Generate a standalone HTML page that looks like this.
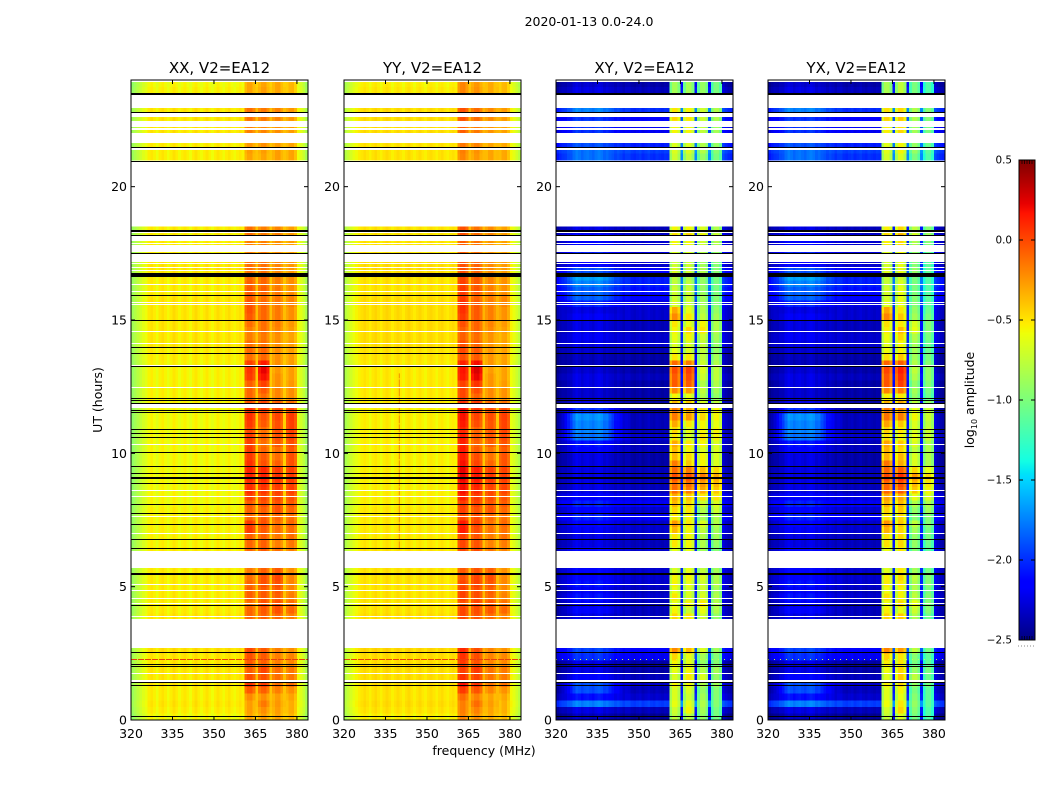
<!DOCTYPE html>
<html lang="en">
<head>
<meta charset="utf-8">
<title>2020-01-13 amplitude waterfall</title>
<style>
html,body{margin:0;padding:0;background:#fff;}
svg{display:block;}
text{font-family:"DejaVu Sans","Liberation Sans",sans-serif;fill:#000;}
</style>
</head>
<body>
<svg id="figure" xmlns="http://www.w3.org/2000/svg" width="1050" height="800" viewBox="0 0 1050 800">
<rect x="0" y="0" width="1050" height="800" fill="#fff"/>
<text x="589" y="26" font-size="12.5" text-anchor="middle">2020-01-13 0.0-24.0</text>
<text x="484" y="755" font-size="12.5" text-anchor="middle">frequency (MHz)</text>
<text x="0" y="0" font-size="12.5" text-anchor="middle" transform="translate(102,400) rotate(-90)">UT (hours)</text>
<text x="0" y="0" font-size="12.5" text-anchor="middle" transform="translate(974,400) rotate(-90)">log<tspan font-size="8" dy="3">10</tspan><tspan dy="-3"> amplitude</tspan></text>
</svg>
<script>
const n = null;

// Axis categories and tick labels
const freqTicks = [320, 335, 350, 365, 380];
const utTicks = [0, 5, 10, 15, 20];
const colorTicks = [0.5, 0, -0.5, -1, -1.5, -2, -2.5];
const panelTitles = ['XX, V2=EA12', 'YY, V2=EA12', 'XY, V2=EA12', 'YX, V2=EA12'];

// Zone of each 1 MHz channel from 320 MHz: 1 off-band, 2-5 sub-bands, 6 sub-band gaps, 7 upper tail
const channelZone = [
1,1,1,1,1,1,1,1,1,1,
1,1,1,1,1,1,1,1,1,1,
1,1,1,1,1,1,1,1,1,1,
1,1,1,1,1,1,1,1,1,1,
1,2,2,2,2,6,3,3,3,3,
6,4,4,4,4,6,5,5,5,5,
7,7,7,7];

// How strongly each off-band channel follows the broad low-frequency feature in the cross-hands
const blobWeight = [
0,0,.1,.3,.5,.7,.85,1,1,1,
1,1,1,1,1,1,1,.95,.9,.75,
.6,.45,.35,.25,.15,.1,.05,0,0,0,
0,0,0,0,0,0,0,0,0,0,
0,0,0,0,0,0,0,0,0,0,
0,0,0,0,0,0,0,0,0,0,
0,0,0,0];

// Per-channel log10 amplitude offsets
const xxChan = [
-.32,-.26,-.2,-.14,-.08,-.04,.03,.06,.02,-.03,
.04,.07,.03,-.02,.03,.08,.04,-.01,.03,.06,
.02,-.02,.04,.08,.03,-.01,.03,.07,.02,-.02,
.03,.07,.03,-.01,.04,.07,.02,-.01,.03,.06,
.02,-.04,.03,.04,-.05,.17,-.04,.03,.04,-.05,
.17,-.04,.03,.04,-.05,.17,-.04,.03,.04,-.06,
-.02,-.08,-.16,-.28];
const yyChan = [
-.26,-.2,-.14,-.08,-.04,0,.03,.06,.03,-.01,
.04,.07,.03,-.01,.04,.07,.04,-.01,.03,.06,
.03,-.01,.04,.07,.03,-.01,.03,.06,.02,-.01,
.04,.06,.03,-.01,.04,.06,.02,-.01,.03,.05,
.02,-.04,.03,.04,-.05,.17,-.04,.03,.04,-.05,
.17,-.04,.03,.04,-.05,.17,-.04,.03,.04,-.06,
-.03,-.09,-.16,-.24];
const xyChan = [
-.05,0,.02,0,.02,0,.05,.08,.05,0,
.04,.06,.03,0,.05,.08,.05,0,.04,.02,
.02,0,.05,.03,0,.05,.06,.02,0,.03,
.05,0,.03,.06,.02,0,.04,.02,0,.03,
.02,-.15,.05,.05,-.1,.3,-.15,.05,.05,-.1,
.3,-.15,.05,.05,-.1,.3,-.15,.05,.05,-.1,
.12,.05,0,-.02];

// XX: row values every 0.25 h from 0 UT
const xxOut = [
-.5,-.46,-.44,-.46, -.46,-.44,-.44,-.44, -.44,-.44,-.42,n,
n,n,n,-.44, -.46,-.46,-.46,-.46, -.46,-.46,-.46,n,
n,-.46,-.48,-.48, -.48,-.48,-.48,-.48, -.5,-.5,-.5,-.5,
-.5,-.5,-.5,-.5, -.5,-.5,-.5,-.5, -.5,-.5,-.5,-.48,
-.48,-.48,-.48,-.48, -.48,-.48,-.46,-.46, -.44,-.44,-.44,-.44,
-.44,-.44,-.44,-.44, -.46,-.46,-.46,-.44, -.44,-.44,-.46,-.46,
-.46,-.46,n,n, n,n,n,n, n,n,n,n,
-.46,-.46,-.46,-.46, -.44,-.44,-.44,-.44, -.46,-.46,-.48,-.5];
const xxSb1 = [
-.22,-.2,-.2,-.14, .02,.14,.05,0, .02,.05,.08,n,
n,n,n,-.02, -.02,-.05,0,0, -.02,-.05,-.08,n,
n,-.02,-.02,0, .12,.12,-.02,0, .02,.1,.16,.16,
.2,.2,.15,.12, .12,.1,.12,.08, .12,.15,.15,.05,
-.02,-.02,0,.12, .14,.1,-.05,-.03, -.05,-.1,-.1,-.05,
.02,.05,.05,.02, .02,0,-.02,-.05, -.05,-.1,-.1,-.1,
-.05,-.05,n,n, n,n,n,n, n,n,n,n,
-.22,-.2,-.18,-.12, -.1,-.1,-.05,-.05, -.22,-.22,-.22,-.22];
const xxSb2 = [
-.2,-.15,-.08,-.15, 0,.1,.05,.08, 0,.02,.02,n,
n,n,n,0, .02,.05,.02,.02, .05,.05,0,n,
n,.02,0,0, .02,.05,.02,0, .05,.08,.14,.16,
.2,.18,.05,.02, -.02,-.05,-.02,-.05, .02,.05,.1,.08,
-.05,.02,.1,.25, .3,.22,-.02,-.02, -.05,-.08,-.05,-.05,
-.02,-.02,-.02,-.05, 0,-.02,-.02,-.05, -.05,-.1,-.1,-.1,
-.08,-.1,n,n, n,n,n,n, n,n,n,n,
-.22,-.2,-.15,-.12, -.12,-.1,-.08,-.08, -.2,-.2,-.2,-.22];
const xxSb3 = [
-.22,-.2,-.18,-.2, -.1,-.05,-.05,-.05, -.1,-.1,-.1,n,
n,n,n,-.02, .05,.05,0,.02, .05,.08,.02,n,
n,-.05,-.1,-.08, -.05,-.05,-.02,.05, .05,.08,.1,.12,
.15,.12,0,-.05, -.05,.02,.05,.05, .05,.08,.08,0,
-.12,-.12,-.15,-.15, -.18,-.15,-.15,-.15, -.15,-.15,-.12,-.1,
-.08,-.08,-.08,-.08, -.08,-.1,-.1,-.12, -.12,-.15,-.15,-.15,
-.1,-.12,n,n, n,n,n,n, n,n,n,n,
-.2,-.2,-.2,-.15, -.15,-.15,-.12,-.12, -.22,-.22,-.22,-.22];
const xxSb4 = [
-.28,-.25,-.25,-.22, -.15,-.05,-.08,-.08, -.12,-.12,-.15,n,
n,n,n,-.1, -.02,-.05,-.1,-.12, -.12,-.12,-.15,n,
n,-.1,-.08,-.05, -.05,-.02,-.05,-.02, .02,.05,.1,.1,
.12,.1,.05,.05, .02,.05,.08,.1, .1,.12,.08,-.05,
-.15,-.15,-.18,-.2, -.2,-.2,-.2,-.2, -.2,-.22,-.2,-.18,
-.15,-.15,-.12,-.12, -.15,-.15,-.15,-.18, -.18,-.2,-.2,-.2,
-.18,-.2,n,n, n,n,n,n, n,n,n,n,
-.22,-.22,-.22,-.2, -.2,-.2,-.18,-.18, -.28,-.28,-.28,-.28];

// Level adjustments by zone: blob, off-band, sub-bands x4
const xxShift = [-.1, -.1, -.1, -.1, -.1, -.1];
const yyShift = [-.07, -.07, 0, -.06, -.12, -.11];

// XY: row values every 0.25 h from 0 UT
const xyBlob = [
-2.3,-2.2,-1.7,-2.05, -1.85,-1.85,-2.1,-2.2, -2.2,-1.95,-1.9,n,
n,n,n,-2.2, -2.1,-2.15,-2.05,-2.15, -2.05,-2.1,-2.1,n,
n,-2.1,-2.2,-2.2, -2.15,-2.1,-2,-2.1, -2,-2.1,-2.2,-2.2,
-2.2,-2.2,-2.2,-2.2, -2.1,-2.05,-1.75,-1.7, -1.7,-1.65,-1.95,-2.2,
-2.25,-2.25,-2.2,-2.2, -2.25,-2.3,-2.3,-2.25, -2.2,-2.15,-2.2,-2.2,
-2.15,-2.2,-2,-1.8, -1.8,-1.7,-1.6,-1.85, -2.1,-2,-2,-2.1,
-2.1,-2.2,n,n, n,n,n,n, n,n,n,n,
-1.75,-1.75,-1.85,-1.8, -1.95,-1.85,-1.95,-1.7, -1.9,-2.1,-2.2,-2.25];
const xyHigh = [
-2.35,-2.25,-1.85,-2.2, -2.25,-2.2,-2.25,-2.3, -2.3,-2.1,-2.05,n,
n,n,n,-2.25, -2.25,-2.25,-2.2,-2.25, -2.2,-2.2,-2.2,n,
n,-2.2,-2.25,-2.25, -2.2,-2.2,-2.1,-2.2, -2.1,-2.15,-2.25,-2.25,
-2.25,-2.25,-2.3,-2.3, -2.25,-2.25,-2.2,-2.25, -2.25,-2.25,-2.3,-2.3,
-2.3,-2.3,-2.3,-2.25, -2.3,-2.3,-2.3,-2.25, -2.2,-2.2,-2.25,-2.25,
-2.2,-2.2,-2.15,-2.05, -2,-1.95,-1.95,-2.05, -2.2,-2.15,-2.15,-2.2,
-2.2,-2.25,n,n, n,n,n,n, n,n,n,n,
-1.9,-1.85,-1.95,-1.95, -2.1,-2,-2.05,-1.9, -2,-2.15,-2.25,-2.3];
const xySb1 = [
-.8,-.75,-.65,-.7, -.7,-.6,-.7,-.65, -.6,-.5,-.25,n,
n,n,n,-.5, -.6,-.65,-.55,-.65, -.6,-.6,-.7,n,
n,-.65,-.55,-.55, -.4,-.3,-.55,-.5, -.4,-.35,-.15,-.15,
-.05,-.15,-.2,-.4, -.4,-.35,-.55,-.5, -.35,-.2,-.2,-.4,
-.6,-.25,-.1,-.1, -.05,-.15,-.55,-.65, -.7,-.65,-.6,-.55,
-.25,-.35,-.7,-.75, -.75,-.8,-.8,-.7, -.75,-.6,-.7,-.6,
-.5,-.6,n,n, n,n,n,n, n,n,n,n,
-.75,-.7,-.7,-.6, -.6,-.55,-.5,-.55, -.85,-.9,-.9,-.9];
const xySb2 = [
-.8,-.6,-.65,-.75, -.7,-.6,-.55,-.6, -.65,-.65,-.4,n,
n,n,n,-.55, -.75,-.6,-.7,-.7, -.65,-.6,-.65,n,
n,-.65,-.6,-.6, -.6,-.55,-.6,-.55, -.5,-.45,-.2,-.15,
-.05,-.2,-.45,-.5, -.6,-.55,-.7,-.65, -.55,-.3,-.35,-.45,
-.65,-.3,-.1,-.05, 0,-.2,-.55,-.7, -.7,-.6,-.5,-.65,
-.55,-.65,-.75,-.75, -.75,-.8,-.85,-.75, -.75,-.6,-.7,-.6,
-.45,-.6,n,n, n,n,n,n, n,n,n,n,
-.8,-.7,-.7,-.55, -.6,-.6,-.55,-.6, -.85,-.9,-.9,-.9];
const xySb3 = [
-.95,-.9,-.85,-.9, -.95,-.85,-.7,-.85, -.95,-.9,-.7,n,
n,n,n,-.75, -.65,-.55,-.7,-.75, -.75,-.7,-.8,n,
n,-.9,-.85,-.85, -.8,-.7,-.9,-.85, -.75,-.55,-.35,-.3,
-.2,-.4,-.6,-.6, -.7,-.6,-.55,-.6, -.6,-.5,-.55,-.7,
-.85,-.8,-.85,-.75, -.7,-.75,-.8,-.8, -.8,-.75,-.55,-.6,
-.8,-.85,-.9,-.9, -.95,-.95,-.95,-.85, -.9,-.8,-.85,-.75,
-.6,-.7,n,n, n,n,n,n, n,n,n,n,
-.95,-.85,-.85,-.75, -.8,-.8,-.75,-.75, -.95,-.95,-.95,-.95];
const xySb4 = [
-1.05,-1.05,-1,-1, -1,-.9,-.95,-.9, -1,-1,-.9,n,
n,n,n,-.95, -.85,-.85,-.85,-.9, -.85,-.85,-.9,n,
n,-1,-.95,-.9, -.9,-.85,-.85,-.75, -.7,-.55,-.45,-.4,
-.35,-.5,-.7,-.7, -.7,-.7,-.6,-.6, -.65,-.6,-.6,-.8,
-.95,-.9,-.85,-.8, -.8,-.85,-.9,-.95, -.95,-.9,-.85,-.85,
-.9,-.95,-1,-1, -1.05,-1.05,-1.05,-1, -1,-.95,-.95,-.85,
-.75,-.85,n,n, n,n,n,n, n,n,n,n,
-1.05,-1,-.95,-.9, -.9,-.9,-.85,-.85, -1.05,-1.05,-1.05,-1.05];

const xyShift = [-.08, -.12, 0, 0, 0, 0];
const yxShift = [-.08, -.12, .02, .1, -.1, -.15];

// Flagged time ranges in UT hours [start, end]
const whiteBands = [
[2.71,3.79],[5.7,6.35],[18.56,20.96],[11.69,11.85],
[22.96,23.42],[22.62,22.75],[22.25,22.46],[22.14,22.19],[21.63,22],[21.38,21.5],
[23.92,24],[17.96,18.16],[18.25,18.3],[17.84,17.88],[17.54,17.8],[17.19,17.53]];
const whiteLines = [
7.65,7,5.1,4.87,4.56,4.37,3.91,1.75,1.5,1.47,
17.15,17,16.88,16.34,16.1,15.69,15.59,14.6,14.15,13.31,12.5,10.35,8.63,8.41];
const blackBands = [
[23.42,23.5],[22.75,22.81],[18.3,18.37],[18.16,18.2],[16.63,16.77],[9.48,9.54],[9.03,9.1]];
const blackLines = [
8.11,7.77,7.34,6.78,6.44,5.52,5.46,4.3,2.56,2.1,2.01,1.41,1.31,0.16,
15.93,14.99,13.98,13.75,13.27,12.06,12,11.9,11.63,11.56,10.9,10.75,10.6,10.04,9.25,8.9,21.5,20.96,17.53];
const spikeHour = 2.28;
const yyRfiFreq = 340;
const yyRfiHours = [6.4, 13];

const svgNS = 'http://www.w3.org/2000/svg';
const figure = document.getElementById('figure');
const panelLefts = [131, 344, 556, 768];
const panelWidth = 177;
const plotTop = 80;
const plotBottom = 720;
const freqMin = 320;
const freqMax = 384;
const utMax = 24;
const rowHours = 0.25;

function xScale(left, freq) {
  return left + (freq - freqMin) / (freqMax - freqMin) * panelWidth;
}
function yScale(hour) {
  return plotBottom - hour / utMax * (plotBottom - plotTop);
}
function jetChannel(t, pts) {
  for (let i = 1; i < pts.length; i++) {
    if (t <= pts[i][0]) {
      const a = pts[i - 1], b = pts[i];
      return a[1] + (b[1] - a[1]) * (t - a[0]) / (b[0] - a[0]);
    }
  }
  return pts[pts.length - 1][1];
}
function jet(value) {
  const t = Math.max(0, Math.min(1, (value + 2.5) / 3));
  const r = jetChannel(t, [[0,0],[.35,0],[.66,1],[.89,1],[1,.5]]);
  const g = jetChannel(t, [[0,0],[.125,0],[.375,1],[.64,1],[.91,0],[1,0]]);
  const b = jetChannel(t, [[0,.5],[.11,1],[.34,1],[.65,0],[1,0]]);
  return 'rgb(' + Math.round(r * 255) + ',' + Math.round(g * 255) + ',' + Math.round(b * 255) + ')';
}
function make(tag, parent, attrs) {
  const node = document.createElementNS(svgNS, tag);
  for (const k in attrs) node.setAttribute(k, attrs[k]);
  parent.appendChild(node);
  return node;
}

const panelZones = [
  [xxOut, xxOut, xxSb1, xxSb2, xxSb3, xxSb4],
  [xxOut, xxOut, xxSb1, xxSb2, xxSb3, xxSb4],
  [xyBlob, xyHigh, xySb1, xySb2, xySb3, xySb4],
  [xyBlob, xyHigh, xySb1, xySb2, xySb3, xySb4]
];
const panelShifts = [xxShift, yyShift, xyShift, yxShift];
const panelChans = [xxChan, yyChan, xyChan, xyChan];
const panelKeys = ['xx', 'yy', 'xy', 'yx'];

function cellValue(p, row, col) {
  const zones = panelZones[p], shift = panelShifts[p];
  const zone = channelZone[col];
  const z = zone > 5 ? 1 : zone;
  let base = zones[z][row] + shift[z];
  if (z === 1) {
    const blob = zones[0][row] + shift[0];
    base = base + blobWeight[col] * (blob - base);
  }
  return base + panelChans[p][col];
}

panelLefts.forEach(function (left, p) {
  const group = make('g', figure, {});
  
  

  const heat = make('g', group, {'shape-rendering': 'crispEdges'});
  
  

  const rowCount = xxOut.length;
  for (let row = 0; row < rowCount; row++) {
    if (panelZones[p][1][row] === null) continue;
    const yTop = yScale((row + 1) * rowHours);
    const yBot = yScale(row * rowHours);
    for (let col = 0; col < channelZone.length; col++) {
      const xL = xScale(left, freqMin + col);
      const xR = xScale(left, freqMin + col + 1);
      const cell = make('rect', heat, {x: xL, y: yTop, width: xR - xL + 0.3, height: yBot - yTop + 0.3, fill: jet(cellValue(p, row, col))});
      
      
    }
  }

  const spikeY = Math.round(yScale(spikeHour));
  const spike = make('line', group, {
    x1: left, x2: left + panelWidth, y1: spikeY + 0.5, y2: spikeY + 0.5,
    stroke: p < 2 ? '#e8400a' : '#c8ff40',
    'stroke-width': 1,
    'stroke-dasharray': p < 2 ? '6 1' : '1 5'
  });
  
  

  if (p === 1) {
    const rfi = make('line', group, {
      x1: xScale(left, yyRfiFreq), x2: xScale(left, yyRfiFreq),
      y1: yScale(yyRfiHours[0]), y2: yScale(yyRfiHours[1]),
      stroke: '#f09000', 'stroke-width': 1, 'stroke-dasharray': '8 1'
    });
    
    
  }

  function band(range, color, name) {
    const y0 = Math.round(yScale(range[1]));
    const y1 = Math.round(yScale(range[0]));
    const r = make('rect', group, {x: left, y: y0, width: panelWidth, height: Math.max(1, y1 - y0), fill: color, 'shape-rendering': 'crispEdges'});
    
    
  }
  whiteBands.forEach(function (r) { band(r, '#fff', 'flagged-gap'); });
  whiteLines.forEach(function (h) { band([h, h], '#fff', 'flagged-white-row'); });
  blackBands.forEach(function (r) { band(r, '#000', 'flagged-black-band'); });
  blackLines.forEach(function (h) { band([h, h], '#000', 'flagged-black-row'); });

  const frame = make('rect', group, {x: left, y: plotTop, width: panelWidth, height: plotBottom - plotTop, fill: 'none', stroke: '#000', 'stroke-width': 1});
  
  

  freqTicks.forEach(function (f) {
    const x = xScale(left, f);
    const tb = make('line', group, {x1: x, x2: x, y1: plotBottom, y2: plotBottom - 4, stroke: '#000'});
    
    
    const tt = make('line', group, {x1: x, x2: x, y1: plotTop, y2: plotTop + 4, stroke: '#000'});
    
    
    const lab = make('text', group, {x: x, y: 738, 'font-size': 12.5, 'text-anchor': 'middle'});
    lab.textContent = String(f);
    
    
  });
  utTicks.forEach(function (h) {
    const y = yScale(h);
    const tl = make('line', group, {x1: left, x2: left + 4, y1: y, y2: y, stroke: '#000'});
    
    
    const tr = make('line', group, {x1: left + panelWidth, x2: left + panelWidth - 4, y1: y, y2: y, stroke: '#000'});
    
    
    const lab = make('text', group, {x: left - 4, y: y + 4.5, 'font-size': 12.5, 'text-anchor': 'end'});
    lab.textContent = String(h);
    
    
  });

  const title = make('text', group, {x: left + panelWidth / 2, y: 73, 'font-size': 15, 'text-anchor': 'middle'});
  title.textContent = panelTitles[p];
  
  
});

// Colorbar
const cbLeft = 1019, cbRight = 1035, cbTop = 160, cbBottom = 640;
const cbMin = colorTicks[colorTicks.length - 1], cbMax = colorTicks[0];
function cbY(v) {
  return cbBottom - (v - cbMin) / (cbMax - cbMin) * (cbBottom - cbTop);
}
const cb = make('g', figure, {});


const cbSteps = 240;
for (let i = 0; i < cbSteps; i++) {
  const v0 = cbMin + (cbMax - cbMin) * i / cbSteps;
  const v1 = cbMin + (cbMax - cbMin) * (i + 1) / cbSteps;
  const seg = make('rect', cb, {x: cbLeft, y: cbY(v1), width: cbRight - cbLeft, height: cbY(v0) - cbY(v1) + 0.5, fill: jet((v0 + v1) / 2), 'shape-rendering': 'crispEdges'});
  
  
}
const cbFrame = make('rect', cb, {x: cbLeft, y: cbTop, width: cbRight - cbLeft, height: cbBottom - cbTop, fill: 'none', stroke: '#000'});


for (let i = 0; i < 5; i++) {
  const tx = cbLeft + 3 + i * 2.5;
  const topTick = make('line', cb, {x1: tx, x2: tx, y1: cbTop, y2: cbTop + 4, stroke: '#000', 'stroke-width': 0.7});
  
  
  const botTick = make('line', cb, {x1: tx, x2: tx, y1: cbBottom, y2: cbBottom - 4, stroke: '#000', 'stroke-width': 0.7});
  
  
}
colorTicks.forEach(function (v) {
  const y = cbY(v);
  const tl = make('line', cb, {x1: cbLeft, x2: cbLeft + 4, y1: y, y2: y, stroke: '#000'});
  
  
  const tr = make('line', cb, {x1: cbRight, x2: cbRight - 4, y1: y, y2: y, stroke: '#000'});
  
  
  const lab = make('text', cb, {x: 1012, y: y + 3.5, 'font-size': 10.4, 'text-anchor': 'end'});
  lab.textContent = (v < 0 ? '\u2212' : '') + Math.abs(v).toFixed(1);
  
  
});
const cbDots = make('line', cb, {x1: 1018, x2: 1035, y1: 646, y2: 646, stroke: '#888', 'stroke-width': 1, 'stroke-dasharray': '1 2'});


</script>
</body>
</html>
